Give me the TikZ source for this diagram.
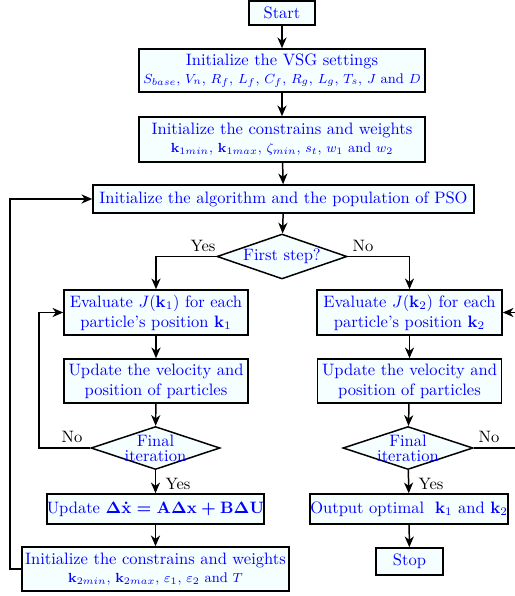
\documentclass[tikz,border=0pt]{standalone}
\usepackage{amsmath,bm}
\usetikzlibrary{shapes.geometric,arrows.meta}
\definecolor{boxfill}{RGB}{245,255,255}
\newcommand\pxu{0.605pt}
\begin{document}
\begin{tikzpicture}[x=\pxu,y=-\pxu,
  box/.style={draw=black, line width=0.9pt, fill=boxfill, text=blue, align=center, inner sep=0pt, rectangle},
  dec/.style={draw=black, diamond, line width=0.9pt, fill=boxfill, inner sep=0pt, label={[text=blue, align=center, inner sep=0pt]center:#1}},
  arr/.style={-{Stealth[length=6.5pt,width=5.5pt,inset=2pt]}, line width=0.9pt},
  lab/.style={text=black, inner sep=0pt}]
\useasboundingbox (0,0) rectangle (514,596);
\newcommand\sm{\fontsize{8.5pt}{10.2pt}\selectfont}
\node[box, minimum width=66*\pxu, minimum height=24*\pxu] (start) at (282,13) {Start};
\node[box, minimum width=286*\pxu, minimum height=43*\pxu] (vsg) at (282,70.5) {Initialize the VSG settings\\[-1pt] {\sm $S_{base}$, $V_n$, $R_f$, $L_f$, $C_f$, $R_g$, $L_g$, $T_s$, $J$ and $D$}};
\node[box, minimum width=286*\pxu, minimum height=45*\pxu] (con) at (282,139.5) {Initialize the constrains and weights\\[-1pt] {\sm $\mathbf{k}_{1min}$, $\mathbf{k}_{1max}$, $\zeta_{min}$, $s_t$, $w_1$ and $w_2$}};
\node[box, minimum width=381*\pxu, minimum height=28*\pxu] (pso) at (283.5,199) {Initialize the algorithm and the population of PSO};
\node[dec={First step?}, minimum width=130*\pxu, minimum height=45*\pxu] (fs) at (282,256.5) {};
\node[box, minimum width=184*\pxu, minimum height=45*\pxu] (ev1) at (156,312.5) {Evaluate $J(\mathbf{k}_1)$ for each\\ particle's position $\mathbf{k}_1$};
\node[box, minimum width=185*\pxu, minimum height=45*\pxu] (ev2) at (409.5,312.5) {Evaluate $J(\mathbf{k}_2)$ for each\\ particle's position $\mathbf{k}_2$};
\node[box, minimum width=184*\pxu, minimum height=44*\pxu] (up1) at (156,381) {Update the velocity and\\ position of particles};
\node[box, minimum width=184*\pxu, minimum height=44*\pxu] (up2) at (409.5,381) {Update the velocity and\\ position of particles};
\node[dec={Final\\[-3pt] iteration}, minimum width=129*\pxu, minimum height=43*\pxu] (fi1) at (155.5,448) {};
\node[dec={Final\\[-3pt] iteration}, minimum width=130*\pxu, minimum height=43*\pxu] (fi2) at (408,448) {};
\node[box, minimum width=213*\pxu, minimum height=30*\pxu] (ud) at (155.5,509) {Update {\boldmath$\Delta\dot{\mathbf{x}}=\mathbf{A}\Delta\mathbf{x}+\mathbf{B}\Delta\mathbf{U}$}};
\node[box, minimum width=198*\pxu, minimum height=30*\pxu] (out) at (409,509) {Output optimal \ $\mathbf{k}_1$ and $\mathbf{k}_2$};
\node[box, minimum width=67*\pxu, minimum height=27*\pxu] (stop) at (409.5,561.5) {Stop};
\node[box, minimum width=267*\pxu, minimum height=44*\pxu] (in2) at (155.5,569) {Initialize the constrains and weights\\[-1pt] {\sm $\mathbf{k}_{2min}$, $\mathbf{k}_{2max}$, $\varepsilon_1$, $\varepsilon_2$ and $T$}};
\coordinate (l1) at (39,448);
\coordinate (l2) at (10,569);
\coordinate (r1) at (530,448);
\draw[arr] (start) -- (vsg);
\draw[arr] (vsg) -- (con);
\draw[arr] (con) -- (pso);
\draw[arr] (pso) -- (fs);
\draw[arr] (fs.west) -| (ev1.north);
\draw[arr] (fs.east) -| (ev2.north);
\draw[arr] (ev1) -- (up1);
\draw[arr] (up1) -- (fi1);
\draw[arr] (fi1) -- (ud);
\draw[arr] (ud) -- (in2);
\draw[arr] (ev2) -- (up2);
\draw[arr] (up2) -- (fi2);
\draw[arr] (fi2) -- (out);
\draw[arr] (out) -- (stop);
\draw[arr] (fi1.west) -- (l1) |- (ev1.west);
\draw[arr] (in2.west) -- (l2) |- (pso.west);
\draw[arr] (fi2.east) -- (r1) |- (ev2.east);
\node[lab] (y1) at (203,246) {Yes};
\node[lab] (n1) at (363,246) {No};
\node[lab] (n2) at (72,437) {No};
\node[lab] (n3) at (489,437) {No};
\node[lab] (y2) at (178,484) {Yes};
\node[lab] (y3) at (431,484) {Yes};
\end{tikzpicture}
\end{document}
